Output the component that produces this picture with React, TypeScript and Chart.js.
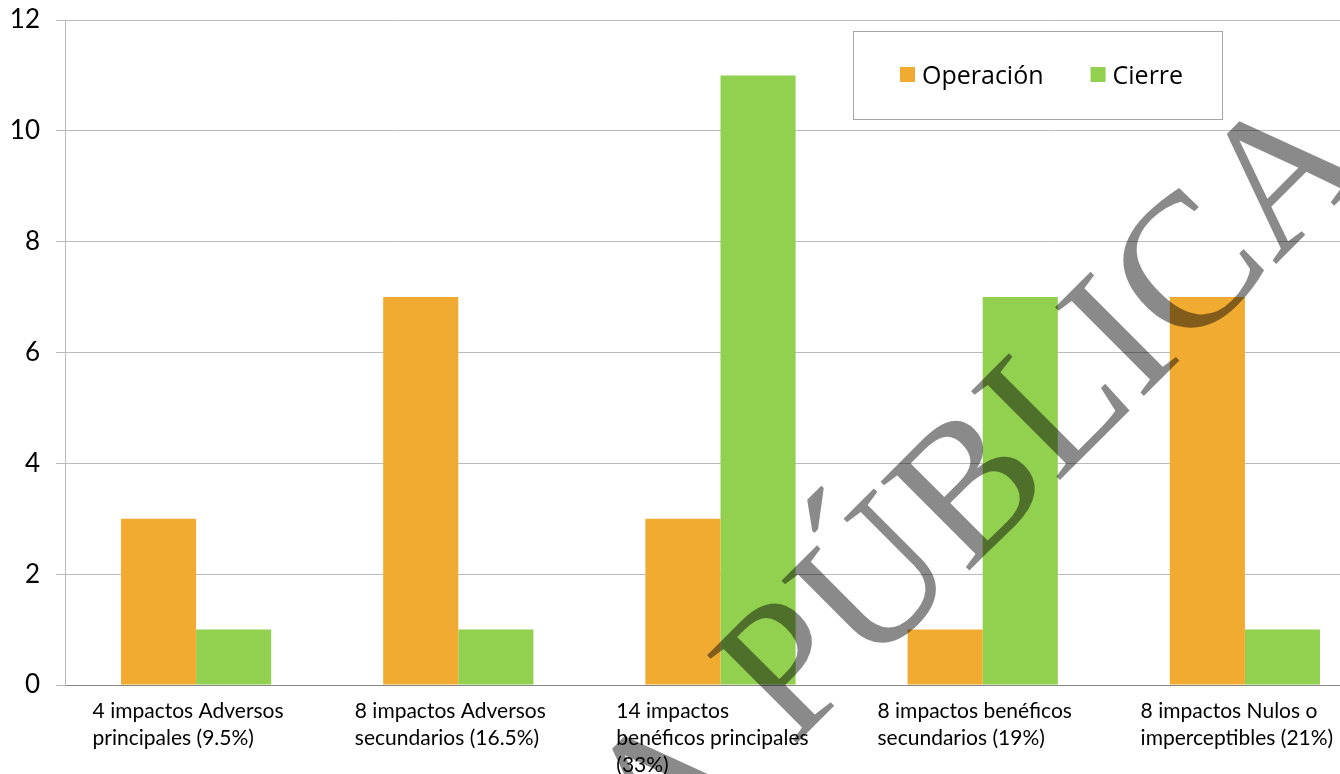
import React, { useEffect, useRef } from "react";
import { Chart, registerables } from "chart.js";

Chart.register(...registerables);

const categories: string[][] = [
  ["4 impactos Adversos", "principales (9.5%)"],
  ["8 impactos Adversos", "secundarios (16.5%)"],
  ["14 impactos", "benéficos principales", "(33%)"],
  ["8 impactos benéficos", "secundarios (19%)"],
  ["8 impactos Nulos o", "imperceptibles (21%)"],
];
const operacion: number[] = [3, 7, 3, 1, 7];
const cierre: number[] = [1, 1, 11, 7, 1];
const seriesNames: string[] = ["Operación", "Cierre"];
const yTicks: number[] = [0, 2, 4, 6, 8, 10, 12];

const ORANGE = "#F0AB30";
const GREEN = "#92D050";

const overlayPlugin = {
  id: "overlay",
  afterDraw(chart: any) {
    const { ctx, chartArea, scales } = chart;
    const xs = scales.x;
    ctx.save();
    // category labels (left-aligned lines in a centred block)
    ctx.font = "21px Lato";
    ctx.fillStyle = "#000";
    ctx.textAlign = "left";
    ctx.textBaseline = "alphabetic";
    categories.forEach((lines, i) => {
      const cx = xs.getPixelForValue(i);
      const w = Math.max(...lines.map((l) => ctx.measureText(l).width));
      const left = cx - w / 2 - 8;
      lines.forEach((l, j) => ctx.fillText(l, left, chartArea.bottom + 33 + j * 27));
    });

    // legend box
    ctx.fillStyle = "#fff";
    ctx.fillRect(853, 31, 369, 88);
    ctx.strokeStyle = "#a6a6a6";
    ctx.lineWidth = 1;
    ctx.strokeRect(853.5, 31.5, 369, 88);
    ctx.font = '25px "Open Sans"';
    ctx.textBaseline = "middle";
    let lx = 900;
    chart.data.datasets.forEach((ds: any) => {
      ctx.fillStyle = ds.backgroundColor;
      ctx.fillRect(lx, 67, 15, 15);
      ctx.fillStyle = "#000";
      ctx.fillText(ds.label, lx + 22, 77);
      lx += 22 + ctx.measureText(ds.label).width + 47;
    });

    // watermark
    ctx.save();
    ctx.translate(792, 748);
    ctx.rotate(-Math.PI / 4);
    ctx.font = '192px "Liberation Serif"';
    ctx.fillStyle = "rgba(0,0,0,0.46)";
    ctx.textBaseline = "alphabetic";
    ctx.textAlign = "left";
    ctx.fillText("PÚBLICA", 0, 0);
    ctx.textAlign = "right";
    ctx.fillText("CONSULTA ", 0, 0);
    ctx.restore();

    ctx.restore();
  },
};

export default function App() {
  const ref = useRef<HTMLCanvasElement | null>(null);
  useEffect(() => {
    if (!ref.current) return;
    const chart = new Chart(ref.current, {
      type: "bar",
      data: {
        labels: categories.map((c) => c.join(" ")),
        datasets: [
          { label: seriesNames[0], data: operacion, backgroundColor: ORANGE, borderWidth: 0 },
          { label: seriesNames[1], data: cierre, backgroundColor: GREEN, borderWidth: 0 },
        ],
      },
      options: {
        animation: false,
        responsive: false,
        devicePixelRatio: 1,
        layout: { padding: { top: 20, right: 14, left: 0, bottom: 0 } },
        plugins: { legend: { display: false }, tooltip: { enabled: false } },
        datasets: { bar: { barPercentage: 1, categoryPercentage: 0.573 } },
        scales: {
          x: {
            type: "category",
            offset: true,
            grid: { display: false },
            border: { display: true, color: "#868686", width: 1 },
            ticks: { display: false },
            afterFit: (s: any) => {
              s.height = 89;
              s.paddingLeft = 0;
              s.paddingRight = 0;
            },
          },
          y: {
            min: 0,
            max: 12,
            afterBuildTicks: (s: any) => {
              s.ticks = yTicks.map((v) => ({ value: v }));
            },
            grid: { color: "#bababa", tickLength: 9, lineWidth: 1 },
            border: { display: true, color: "#bababa", width: 1 },
            ticks: {
              color: "#000",
              padding: 16,
              font: { family: "Lato", size: 26 },
            },
            afterFit: (s: any) => {
              s.width = 65;
              s.paddingTop = 0;
              s.paddingBottom = 0;
            },
          },
        },
      },
      plugins: [overlayPlugin],
    });
    return () => chart.destroy();
  }, []);
  return (
    <div
      style={{
        position: "fixed",
        left: 0,
        top: 0,
        width: 1340,
        height: 774,
        overflow: "hidden",
        background: "#fff",
      }}
    >
      <canvas ref={ref} width={1390} height={774} style={{ display: "block" }} />
    </div>
  );
}
